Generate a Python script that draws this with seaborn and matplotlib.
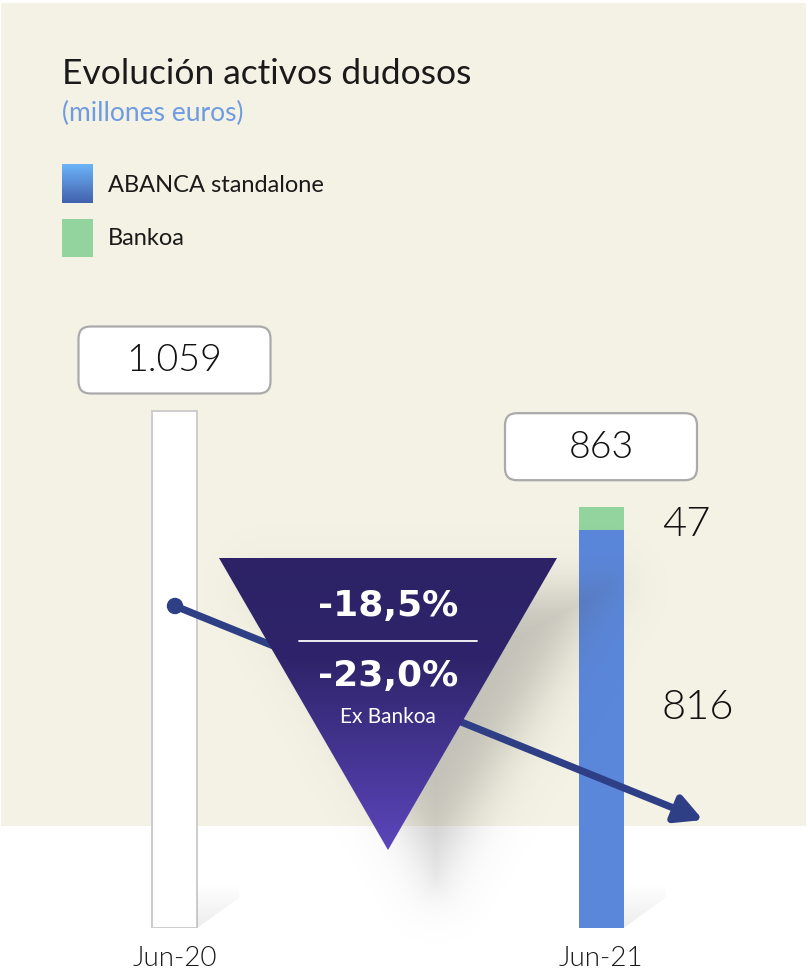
import numpy as np
import pandas as pd
import matplotlib
matplotlib.use("Agg")
import matplotlib.pyplot as plt
import seaborn as sns
from matplotlib.patches import FancyBboxPatch, Polygon, Rectangle, Circle, FancyArrowPatch
from matplotlib.colors import LinearSegmentedColormap

# ---------------- data ----------------
periods = ["Jun-20", "Jun-21"]
total = [1059, 863]
abanca = [0, 816]
bankoa = [0, 47]
total_labels = ["1.059", "863"]
part_labels = ["47", "816"]
pct_total = "-18,5%"
pct_ex = "-23,0%"
pct_ex_label = "Ex Bankoa"
title = "Evolución activos dudosos"
subtitle = "(millones euros)"
legend_labels = ["ABANCA standalone", "Bankoa"]

sns.set_theme(style="white")
plt.rcParams["font.family"] = ["Lato", "DejaVu Sans"]

W, H = 808, 972
fig = plt.figure(figsize=(W / 100, H / 100), dpi=100)
fig.patch.set_facecolor("white")

# background canvas
bg = fig.add_axes([0, 0, 1, 1], zorder=0)
bg.set_xlim(0, W); bg.set_ylim(H, 0); bg.axis("off")
bg.add_patch(Rectangle((1, 3), 805, 823, color="#f4f2e4", lw=0))

# bar axes
base_px = 928
px_per_unit = 517 / 1059
ax = fig.add_axes([0, (H - base_px) / H, 1, base_px / H], zorder=1)
ax.patch.set_alpha(0)
x0, x1 = 174.5, 601
unit = x1 - x0
bw = 45 / unit
df = pd.DataFrame({"period": periods, "total": total, "abanca": abanca})
sns.barplot(data=df, x="period", y="total", order=periods, hue="period",
            palette=["white", "#93d39e"], legend=False, width=bw,
            saturation=1, linewidth=0, errorbar=None, ax=ax)
ax.patches[0].set_edgecolor("#cccccc")
ax.patches[0].set_linewidth(1.4)
sns.barplot(data=df, x="period", y="abanca", order=periods, color="#5b87db",
            width=bw, saturation=1, linewidth=0, errorbar=None, ax=ax)
ax.set_xlim(-x0 / unit, (W - x0) / unit)
ax.set_ylim(0, base_px / px_per_unit)
ax.axis("off")
for i, p in enumerate(periods):
    ax.annotate(p, xy=(i, 0), xytext=(0, -30), textcoords="offset pixels",
                ha="center", va="center", fontsize=20, fontweight=300,
                color="#1a1a1a")

# overlay axes in pixel coordinates
ov = fig.add_axes([0, 0, 1, 1], zorder=2)
ov.patch.set_alpha(0)

def to_px(i, v):
    d = ax.transData.transform((i, v))
    return d[0], H - d[1]

# faint wedge shadows at the foot of each bar
wcmap = LinearSegmentedColormap.from_list("w", [(0.55, 0.55, 0.55, 0.0), (0.55, 0.55, 0.55, 0.16)])
for i in range(len(periods)):
    cx, by = to_px(i, 0)
    rx = cx + bw * unit / 2
    wpoly = Polygon([[rx, by], [rx + 42, by - 30], [rx + 42, by - 60], [rx, by - 60]],
                    closed=True, facecolor="none", edgecolor="none")
    ov.add_patch(wpoly)
    wg = np.linspace(0, 1, 64).reshape(-1, 1)
    wim = ov.imshow(wg, cmap=wcmap, extent=(rx, rx + 42, by, by - 45), origin="upper",
                    aspect="auto", zorder=0.5, interpolation="bilinear")
    wim.set_clip_path(wpoly)

# soft shadow of triangle (blurred, offset copy)
tri = np.array([[219, 558], [557, 558], [388, 850]], float)
sh = tri + np.array([48, 30])
xs = np.arange(150, 808); ys = np.arange(480, 972)
X, Y = np.meshgrid(xs + 0.5, ys + 0.5)
dmin = np.full(X.shape, np.inf)
inside = np.ones(X.shape, bool)
c = sh.mean(0)
for k in range(3):
    p, q = sh[k], sh[(k + 1) % 3]
    e = q - p
    t = np.clip(((X - p[0]) * e[0] + (Y - p[1]) * e[1]) / np.dot(e, e), 0, 1)
    dist = np.hypot(X - (p[0] + t * e[0]), Y - (p[1] + t * e[1]))
    dmin = np.minimum(dmin, dist)
    n = np.array([e[1], -e[0]])
    if np.dot(c - p, n) > 0:
        n = -n
    inside &= ((X - p[0]) * n[0] + (Y - p[1]) * n[1]) < 0
sd = np.where(inside, -dmin, dmin)
alpha = 0.3 / (1 + np.exp((sd + 6) / 16))
rgba = np.zeros(X.shape + (4,)); rgba[..., :3] = 0.3; rgba[..., 3] = alpha
ov.imshow(rgba, extent=(150, 808, 972, 480), origin="upper", zorder=1,
          interpolation="bilinear", aspect="auto")

# arrow line
acol = "#2e3f86"
arr = FancyArrowPatch((175, 606), (703, 820),
                      arrowstyle="-|>,head_length=0.8,head_width=0.42",
                      mutation_scale=20, lw=5.2, color=acol,
                      shrinkA=0, shrinkB=0, joinstyle="round", capstyle="round",
                      zorder=2)
ov.add_patch(arr)
ov.add_patch(Circle((175, 606), 7.5, color=acol, zorder=2))

# gradient triangle
poly = Polygon(tri, closed=True, facecolor="none", edgecolor="none", zorder=3)
ov.add_patch(poly)
cmap = LinearSegmentedColormap.from_list("tri", [(0, "#2c2265"), (0.35, "#2f246b"), (1, "#5b46ba")])
grad = np.linspace(0, 1, 256).reshape(-1, 1)
im = ov.imshow(grad, cmap=cmap, extent=(219, 557, 850, 558), origin="upper",
               aspect="auto", zorder=3, interpolation="bilinear")
im.set_clip_path(poly)
ov.plot([299, 477], [641, 641], color="white", lw=1.3, zorder=4)
ov.text(388, 606, pct_total, ha="center", va="center", fontsize=26,
        fontweight="bold", color="white", family=["DejaVu Sans"], zorder=4)
ov.text(388, 676, pct_ex, ha="center", va="center", fontsize=26,
        fontweight="bold", color="white", family=["DejaVu Sans"], zorder=4)
ov.text(388, 717, pct_ex_label, ha="center", va="center", fontsize=15,
        color="white", zorder=4)

# value boxes
offsets = [51, 60]
r = 12
for i, (v, lab) in enumerate(zip(total, total_labels)):
    cx, ty = to_px(i, v)
    cy = ty - offsets[i]
    ov.add_patch(FancyBboxPatch((cx - 96 + r, cy - 33.5 + r), 192 - 2 * r, 67 - 2 * r,
                                boxstyle=f"round,pad={r}", facecolor="white",
                                edgecolor="#aaaaaa", lw=1.6, zorder=5))
    ov.text(cx, cy + 1, lab, ha="center", va="center", fontsize=27,
            fontweight=300, color="#111111", zorder=6)

# segment labels
ov.text(662, 524, part_labels[0], ha="left", va="center", fontsize=30,
        fontweight=300, color="#111111", zorder=6)
ov.text(662, 707, part_labels[1], ha="left", va="center", fontsize=30,
        fontweight=300, color="#111111", zorder=6)

# title and legend
ov.text(62, 74, title, ha="left", va="center", fontsize=25.5, color="#1a1a1a")
ov.text(62, 113, subtitle, ha="left", va="center", fontsize=19,
        color="#6f9be0")
lg = np.linspace(0, 1, 64).reshape(-1, 1)
lcmap = LinearSegmentedColormap.from_list("lg", ["#6cb3f8", "#4262ad"])
ov.imshow(lg, cmap=lcmap, extent=(62, 93, 203, 165), origin="upper",
          aspect="auto", zorder=3)
ov.add_patch(Rectangle((62, 219), 31, 38, color="#93d39e", lw=0, zorder=3))
ov.text(108, 186, legend_labels[0], ha="left", va="center", fontsize=17, color="#1a1a1a")
ov.text(108, 238, legend_labels[1], ha="left", va="center", fontsize=17, color="#1a1a1a")

ov.set_xlim(0, W); ov.set_ylim(H, 0); ov.axis("off")

fig.savefig("out.png", dpi=100)
